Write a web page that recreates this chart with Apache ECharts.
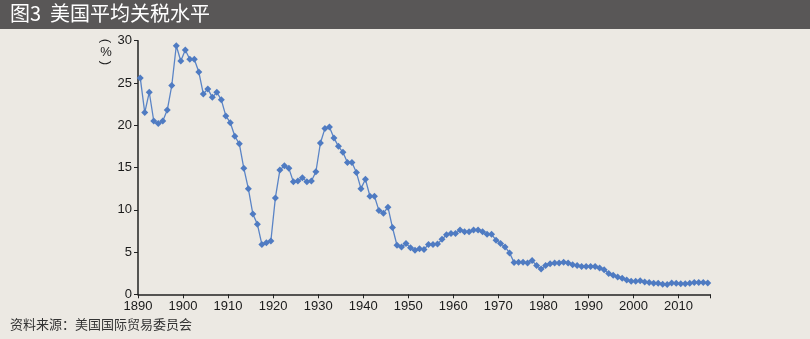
<!DOCTYPE html>
<html>
<head>
<meta charset="utf-8">
<script src="https://cdn.jsdelivr.net/npm/echarts@6/dist/echarts.min.js"></script>
<style>
html,body{margin:0;padding:0;background:#ECE9E3;}
#c{width:810px;height:339px;}
</style>
</head>
<body>
<div id="c"></div>
<script>
const startYear = 1890;
const endYear = 2016;
const years = [];
for (let y = startYear; y <= endYear; y++) years.push(String(y));

const tariff = [
  // 1890-1899
  25.6, 21.5, 23.9, 20.5, 20.2, 20.5, 21.8, 24.7, 29.4, 27.6,
  // 1900-1909
  28.9, 27.8, 27.8, 26.3, 23.7, 24.3, 23.3, 23.9, 23.0, 21.1,
  // 1910-1919
  20.3, 18.7, 17.8, 14.9, 12.5, 9.5, 8.3, 5.9, 6.1, 6.3,
  // 1920-1929
  11.4, 14.7, 15.2, 14.9, 13.3, 13.4, 13.8, 13.3, 13.4, 14.5,
  // 1930-1939
  17.9, 19.6, 19.8, 18.5, 17.5, 16.8, 15.6, 15.6, 14.4, 12.5,
  // 1940-1949
  13.6, 11.6, 11.6, 9.9, 9.6, 10.3, 7.9, 5.8, 5.6, 6.0,
  // 1950-1959
  5.5, 5.2, 5.4, 5.3, 5.9, 5.9, 5.95, 6.5, 7.05, 7.2,
  // 1960-1969
  7.2, 7.6, 7.4, 7.4, 7.6, 7.6, 7.4, 7.1, 7.1, 6.4,
  // 1970-1979
  6.0, 5.6, 4.9, 3.75, 3.8, 3.8, 3.7, 4.0, 3.4, 3.0,
  // 1980-1989
  3.4, 3.6, 3.7, 3.7, 3.8, 3.7, 3.5, 3.4, 3.3, 3.3,
  // 1990-1999
  3.3, 3.3, 3.1, 2.9, 2.45, 2.25, 2.05, 1.9, 1.7, 1.55,
  // 2000-2009
  1.55, 1.6, 1.45, 1.4, 1.3, 1.3, 1.2, 1.15, 1.35, 1.3,
  // 2010-2016
  1.25, 1.25, 1.3, 1.4, 1.4, 1.4, 1.35
];

const titleText = '图3  美国平均关税水平';
const sourceText = '资料来源：美国国际贸易委员会';
const unitText = '%';
const yMin = 0, yMax = 30, yStep = 5;

const chart = echarts.init(document.getElementById('c'), null, {renderer: 'canvas'});
const numFont = '"Liberation Sans", Arial, sans-serif';
const cjkFont = '"Noto Sans CJK SC", sans-serif';

chart.setOption({
  backgroundColor: '#ECE9E3',
  animation: false,
  grid: {left: 138, right: 100, top: 40.7, bottom: 44.7, containLabel: false},
  xAxis: {
    type: 'category',
    data: years,
    boundaryGap: true,
    axisLine: {lineStyle: {color: '#222', width: 1.5}},
    axisTick: {
      show: true,
      interval: function (i) { return i % 10 === 0; },
      length: 4,
      lineStyle: {color: '#222', width: 1}
    },
    axisLabel: {
      interval: function (i) { return i % 10 === 0; },
      color: '#1a1a1a',
      fontFamily: numFont,
      fontSize: 13,
      margin: 6,
      padding: [0, 4.5, 0, 0]
    },
    splitLine: {show: false}
  },
  yAxis: {
    type: 'value',
    min: yMin, max: yMax, interval: yStep,
    axisLine: {show: true, lineStyle: {color: '#222', width: 1.5}},
    axisTick: {show: true, length: 4, lineStyle: {color: '#222', width: 1}},
    axisLabel: {color: '#1a1a1a', fontFamily: numFont, fontSize: 13, margin: 6},
    splitLine: {show: false}
  },
  series: [{
    type: 'line',
    data: tariff,
    symbol: 'diamond',
    symbolSize: 7,
    showAllSymbol: true,
    itemStyle: {color: '#4F7BC2'},
    lineStyle: {color: '#5A84C6', width: 1.3}
  }],
  graphic: [
    {type: 'rect', left: 0, top: 0, shape: {width: 810, height: 29}, style: {fill: '#595757'}, z: 10},
    {type: 'text', left: 10, top: 3, style: {text: titleText, fill: '#ffffff', font: '400 20px ' + cjkFont}, z: 11},
    {type: 'text', left: 10, top: 318, style: {text: sourceText, fill: '#333', font: '13px ' + cjkFont}, z: 11},
    {type: 'text', x: 106, y: 41, rotation: -Math.PI / 2, style: {text: '(', fill: '#222', font: '13px ' + numFont, align: 'center', verticalAlign: 'middle'}, z: 11},
    {type: 'text', x: 106, y: 52, style: {text: unitText, fill: '#222', font: '13px ' + numFont, align: 'center', verticalAlign: 'middle'}, z: 11},
    {type: 'text', x: 106, y: 63, rotation: -Math.PI / 2, style: {text: ')', fill: '#222', font: '13px ' + numFont, align: 'center', verticalAlign: 'middle'}, z: 11}
  ]
});
</script>
</body>
</html>
